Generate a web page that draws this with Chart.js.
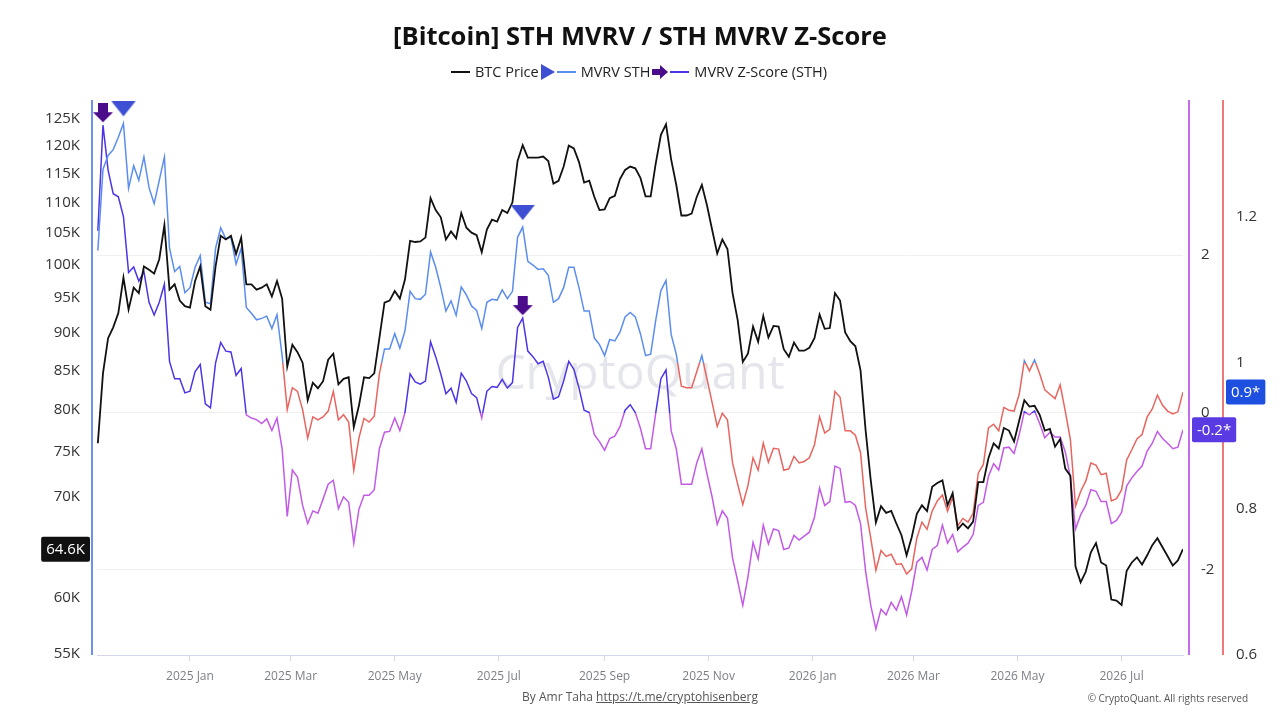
<!DOCTYPE html>
<html>
<head>
<meta charset="utf-8">
<title>[Bitcoin] STH MVRV / STH MVRV Z-Score</title>
<style>
body { margin: 0; background: #fff; font-family: "Open Sans", sans-serif; }
.wrap { position: relative; width: 1280px; height: 720px; overflow: hidden; }
#myChart { position: absolute; left: 0; top: 0; }
h1 {
  position: absolute; left: 0; right: 0; top: 18px; margin: 0;
  text-align: center; font-size: 25.5px; font-weight: 700; color: #111;
}
.legend {
  position: absolute; left: 0; right: 0; top: 62px;
  display: flex; justify-content: center; align-items: center;
  font-size: 14.5px; color: #222;
}
.legend .ln { display: inline-block; width: 19px; border-top: 2px solid; margin-right: 5px; }
.legend .txt { margin-right: 2px; }
.legend svg { margin: 0 2px 0 0; }
.credit {
  position: absolute; left: 0; right: 0; top: 688px; text-align: center;
  font-size: 12px; color: #555;
}
.credit a { color: #555; }
.copy { position: absolute; right: 32px; top: 691px; font-size: 10px; color: #555; }
</style>
</head>
<body>
<div class="wrap">
  <canvas id="myChart" width="1280" height="720"></canvas>
  <h1>[Bitcoin] STH MVRV / STH MVRV Z-Score</h1>
  <div class="legend">
    <span class="ln" style="border-color:#111"></span><span class="txt">BTC Price</span>
    <svg width="14" height="16"><polygon points="0,0 14,8 0,16" fill="#3e4fd4"/></svg>
    <span class="ln" style="border-color:#5b8def"></span><span class="txt">MVRV STH</span>
    <svg width="16" height="14"><polygon points="0,4 8,4 8,0 16,7 8,14 8,10 0,10" fill="#4b0c8c"/></svg>
    <span class="ln" style="border-color:#4b35e6"></span><span class="txt">MVRV Z-Score (STH)</span>
  </div>
  <div class="credit">By Amr Taha <a href="#">https://t.me/cryptohisenberg</a></div>
  <div class="copy">© CryptoQuant. All rights reserved</div>
</div>
<script src="https://cdn.jsdelivr.net/npm/chart.js@4/dist/chart.umd.min.js"></script>
<script>
// day numbers are counted from 2025-01-01, one point every 3 days
var firstDay = -54;
var stepDays = 3;

var btcPriceK = [
  76.0, 84.6, 89.3, 90.8, 92.8, 98.0, 93.3, 96.5, 95.7, 99.7,
  99.2, 98.6, 100.8, 106.2, 96.2, 97.0, 94.6, 93.8, 93.6, 97.5,
  99.7, 93.8, 93.3, 99.7, 104.5, 103.9, 104.5, 101.6, 104.2, 97.0,
  97.0, 96.2, 96.5, 97.0, 95.2, 97.5, 94.9, 85.5, 88.4, 87.4,
  86.0, 81.2, 83.4, 82.7, 83.6, 86.4, 87.2, 83.2, 83.9, 84.1,
  77.9, 80.5, 84.1, 84.0, 84.6, 89.3, 94.3, 94.6, 96.0, 94.9,
  97.7, 103.7, 103.5, 103.6, 104.2, 110.7, 108.7, 107.5, 103.9, 105.2,
  104.1, 108.2, 105.8, 105.0, 104.6, 101.9, 105.5, 107.1, 106.8, 108.7,
  108.2, 110.0, 117.2, 120.1, 117.8, 117.8, 117.8, 118.0, 117.2, 113.2,
  113.7, 116.2, 120.0, 119.5, 117.0, 113.4, 113.7, 110.9, 108.7, 108.8,
  110.7, 111.1, 114.0, 115.6, 116.2, 115.9, 114.2, 111.0, 111.0, 116.8,
  122.0, 124.0, 117.5, 113.0, 107.8, 107.8, 108.1, 110.9, 113.0, 109.5,
  105.5, 101.7, 103.9, 102.4, 95.7, 91.8, 86.1, 87.2, 90.9, 88.8,
  92.4, 89.4, 91.0, 90.9, 87.8, 86.8, 88.7, 87.6, 87.6, 88.0,
  89.3, 92.6, 90.6, 90.7, 95.7, 94.6, 90.1, 88.9, 88.2, 85.0,
  77.5, 71.8, 67.3, 69.0, 68.3, 68.5, 67.2, 66.0, 64.0, 65.8,
  68.2, 69.1, 68.5, 71.1, 71.5, 71.8, 69.1, 70.4, 66.6, 67.2,
  66.7, 67.4, 71.6, 71.6, 74.3, 76.0, 75.4, 77.8, 77.5, 76.2,
  78.7, 81.2, 80.4, 80.5, 79.4, 77.5, 77.7, 75.6, 76.5, 73.1,
  72.3, 62.9, 61.4, 62.4, 64.3, 65.2, 63.3, 63.0, 59.8, 59.7,
  59.3, 62.5, 63.3, 63.8, 63.1, 64.0, 65.0, 65.7, 64.8, 63.9,
  63.0, 63.5, 64.6
];

var mvrvSth = [
  1.154, 1.265, 1.284, 1.292, 1.309, 1.328, 1.239, 1.270, 1.250, 1.282,
  1.240, 1.218, 1.250, 1.282, 1.157, 1.125, 1.132, 1.096, 1.103, 1.131,
  1.147, 1.083, 1.081, 1.157, 1.185, 1.170, 1.172, 1.135, 1.157, 1.076,
  1.068, 1.059, 1.061, 1.064, 1.047, 1.066, 1.010, 0.936, 0.966, 0.961,
  0.936, 0.897, 0.926, 0.922, 0.926, 0.934, 0.961, 0.922, 0.929, 0.919,
  0.853, 0.897, 0.924, 0.919, 0.927, 0.985, 1.019, 1.019, 1.040, 1.020,
  1.044, 1.098, 1.088, 1.087, 1.094, 1.152, 1.131, 1.103, 1.071, 1.085,
  1.065, 1.104, 1.093, 1.078, 1.072, 1.047, 1.083, 1.087, 1.086, 1.100,
  1.088, 1.098, 1.172, 1.186, 1.139, 1.134, 1.128, 1.129, 1.120, 1.083,
  1.088, 1.103, 1.131, 1.131, 1.103, 1.071, 1.071, 1.034, 1.025, 1.010,
  1.032, 1.030, 1.042, 1.063, 1.069, 1.063, 1.040, 1.010, 1.012, 1.059,
  1.099, 1.113, 1.039, 1.012, 0.968, 0.966, 0.966, 0.988, 1.010, 0.978,
  0.946, 0.913, 0.931, 0.922, 0.863, 0.834, 0.806, 0.832, 0.870, 0.853,
  0.890, 0.864, 0.883, 0.882, 0.853, 0.855, 0.872, 0.863, 0.865, 0.870,
  0.888, 0.926, 0.904, 0.909, 0.961, 0.953, 0.907, 0.907, 0.901, 0.877,
  0.801, 0.760, 0.716, 0.743, 0.735, 0.738, 0.724, 0.725, 0.711, 0.718,
  0.760, 0.782, 0.772, 0.797, 0.811, 0.819, 0.797, 0.816, 0.777, 0.787,
  0.782, 0.794, 0.849, 0.861, 0.911, 0.916, 0.907, 0.939, 0.935, 0.934,
  0.957, 1.003, 0.989, 1.004, 0.985, 0.963, 0.957, 0.951, 0.970, 0.934,
  0.895, 0.804, 0.824, 0.838, 0.863, 0.860, 0.847, 0.849, 0.811, 0.814,
  0.826, 0.867, 0.881, 0.896, 0.902, 0.926, 0.937, 0.956, 0.942, 0.934,
  0.930, 0.933, 0.960
];

var mvrvZScore = [
  2.31, 3.65, 3.08, 2.78, 2.74, 2.49, 1.78, 1.85, 1.67, 1.79,
  1.40, 1.24, 1.40, 1.63, 0.65, 0.43, 0.43, 0.25, 0.27, 0.52,
  0.61, 0.11, 0.06, 0.63, 0.89, 0.78, 0.77, 0.47, 0.56, -0.03,
  -0.07, -0.09, -0.14, -0.08, -0.23, -0.07, -0.46, -1.32, -0.73, -0.82,
  -1.18, -1.41, -1.25, -1.28, -1.10, -0.91, -0.86, -1.22, -1.07, -1.14,
  -1.66, -1.23, -1.05, -1.05, -0.98, -0.46, -0.25, -0.24, -0.07, -0.23,
  0.00, 0.49, 0.39, 0.36, 0.40, 0.90, 0.71, 0.49, 0.24, 0.31,
  0.13, 0.50, 0.40, 0.24, 0.19, -0.07, 0.27, 0.33, 0.32, 0.42,
  0.31, 0.38, 1.08, 1.20, 0.78, 0.71, 0.62, 0.65, 0.45, 0.17,
  0.20, 0.40, 0.65, 0.55, 0.31, 0.03, 0.00, -0.28, -0.37, -0.48,
  -0.33, -0.30, -0.18, 0.03, 0.10, 0.00, -0.20, -0.46, -0.46, 0.00,
  0.43, 0.54, -0.23, -0.46, -0.91, -0.91, -0.91, -0.64, -0.46, -0.78,
  -1.07, -1.42, -1.25, -1.34, -1.85, -2.14, -2.45, -2.09, -1.65, -1.86,
  -1.43, -1.67, -1.48, -1.50, -1.74, -1.72, -1.56, -1.62, -1.57, -1.52,
  -1.33, -0.96, -1.18, -1.13, -0.68, -0.71, -1.14, -1.13, -1.18, -1.41,
  -2.02, -2.45, -2.75, -2.50, -2.57, -2.41, -2.51, -2.34, -2.57, -2.27,
  -1.90, -1.84, -2.00, -1.74, -1.69, -1.43, -1.66, -1.55, -1.77, -1.71,
  -1.66, -1.55, -1.18, -1.14, -0.81, -0.65, -0.73, -0.45, -0.44, -0.52,
  -0.28, 0.01, -0.03, 0.02, -0.14, -0.32, -0.25, -0.31, -0.31, -0.50,
  -0.82, -1.48, -1.30, -1.18, -0.98, -1.00, -1.13, -1.13, -1.41, -1.37,
  -1.27, -0.93, -0.83, -0.75, -0.68, -0.49, -0.39, -0.24, -0.33, -0.39,
  -0.46, -0.44, -0.22
];

// signal markers (index into the series above)
var mvrvSignalIdx = [5, 83];
var zSignalIdx = [1, 83];

// x axis month ticks
var monthTickDays = [0, 59, 120, 181, 243, 304, 365, 424, 485, 546];
var monthTickLabels = ['2025 Jan', '2025 Mar', '2025 May', '2025 Jul', '2025 Sep',
                       '2025 Nov', '2026 Jan', '2026 Mar', '2026 May', '2026 Jul'];

var priceTicksK = [55, 60, 70, 75, 80, 85, 90, 95, 100, 105, 110, 115, 120, 125];
var zTicks = [-2, 0, 2];
var mvrvTicks = [0.6, 0.8, 1, 1.2];

var COL_BTC = '#111111';
var COL_MVRV_UP = '#5b8def', COL_MVRV_DN = '#e8645e';
var COL_Z_UP = '#4b35e6', COL_Z_DN = '#c25ae6';

function toPoints(values) {
  return values.map(function (v, i) { return { x: firstDay + i * stepDays, y: v }; });
}
function signalPoints(values, idx) {
  return idx.map(function (i) { return { x: firstDay + i * stepDays, y: values[i] }; });
}

// line colour split at a threshold of its own axis
function splitColor(axisId, threshold, above, below) {
  return function (context) {
    var chart = context.chart;
    var area = chart.chartArea;
    if (!area) return above;
    var y = chart.scales[axisId].getPixelForValue(threshold);
    var s = (y - area.top) / (area.bottom - area.top);
    s = Math.min(1, Math.max(0, s));
    var g = chart.ctx.createLinearGradient(0, area.top, 0, area.bottom);
    g.addColorStop(0, above);
    g.addColorStop(s, above);
    g.addColorStop(s, below);
    g.addColorStop(1, below);
    return g;
  };
}

function triangleMarker(color) {
  var c = document.createElement('canvas');
  c.width = 26; c.height = 44;
  var g = c.getContext('2d');
  g.fillStyle = color;
  g.beginPath(); g.moveTo(1, 0); g.lineTo(25, 0); g.lineTo(13, 15); g.closePath(); g.fill();
  return c;
}
function arrowMarker(color) {
  var c = document.createElement('canvas');
  c.width = 22; c.height = 44;
  var g = c.getContext('2d');
  g.fillStyle = color;
  g.beginPath();
  g.moveTo(6, 0); g.lineTo(16, 0); g.lineTo(16, 9); g.lineTo(21, 9);
  g.lineTo(11, 19); g.lineTo(1, 9); g.lineTo(6, 9);
  g.closePath(); g.fill();
  return c;
}

function drawBadge(ctx, text, x, y, align, bg) {
  ctx.save();
  ctx.font = '15px "Open Sans"';
  var w = ctx.measureText(text).width + 10;
  var h = 25;
  var left = align === 'right' ? x - w : x;
  ctx.fillStyle = bg;
  ctx.beginPath();
  ctx.roundRect(left, y - h / 2, w, h, 2);
  ctx.fill();
  ctx.fillStyle = '#fff';
  ctx.textAlign = 'center';
  ctx.textBaseline = 'middle';
  ctx.fillText(text, left + w / 2, y + 1);
  ctx.restore();
}

var decorPlugin = {
  id: 'decor',
  beforeDatasetsDraw: function (chart) {
    var ctx = chart.ctx;
    ctx.save();
    ctx.font = '48px "Open Sans"';
    ctx.fillStyle = '#e5e6ec';
    ctx.textAlign = 'center';
    ctx.textBaseline = 'middle';
    ctx.fillText('CryptoQuant', 640, 375);
    ctx.restore();
  },
  afterDraw: function (chart) {
    var ctx = chart.ctx, a = chart.chartArea;
    function vline(x, color) {
      ctx.save();
      ctx.strokeStyle = color; ctx.lineWidth = 2;
      ctx.beginPath(); ctx.moveTo(x, a.top); ctx.lineTo(x, a.bottom); ctx.stroke();
      ctx.restore();
    }
    vline(a.left - 5, '#6f8ff0');
    vline(a.right + 6, '#c46cf0');
    vline(chart.scales.yM.left, '#ec7a78');

    var lastP = btcPriceK[btcPriceK.length - 1];
    var lastM = mvrvSth[mvrvSth.length - 1];
    var lastZ = mvrvZScore[mvrvZScore.length - 1];
    drawBadge(ctx, lastP.toFixed(1) + 'K', a.left - 7, chart.scales.yP.getPixelForValue(lastP), 'right', '#111');
    drawBadge(ctx, (Math.trunc(lastM * 10) / 10).toFixed(1) + '*', chart.scales.yM.left + 3,
              chart.scales.yM.getPixelForValue(lastM), 'left', '#1d4fe0');
    drawBadge(ctx, (Math.trunc(lastZ * 10) / 10).toFixed(1) + '*', a.right + 9,
              chart.scales.yZ.getPixelForValue(lastZ), 'left', '#5a3ae2');
  }
};

Chart.defaults.font.family = '"Open Sans", sans-serif';

var ctx = document.getElementById('myChart').getContext('2d');
var chart = new Chart(ctx, {
  type: 'line',
  data: {
    datasets: [
      {
        label: 'MVRV STH signal',
        data: signalPoints(mvrvSth, mvrvSignalIdx),
        yAxisID: 'yM',
        showLine: false,
        pointStyle: triangleMarker('#3e4fd4'),
        clip: false,
        order: 0
      },
      {
        label: 'MVRV Z-Score signal',
        data: signalPoints(mvrvZScore, zSignalIdx),
        yAxisID: 'yZ',
        showLine: false,
        pointStyle: arrowMarker('#4b0c8c'),
        clip: false,
        order: 0
      },
      {
        label: 'BTC Price',
        data: toPoints(btcPriceK),
        yAxisID: 'yP',
        borderColor: COL_BTC,
        borderWidth: 1.8,
        pointRadius: 0,
        order: 1
      },
      {
        label: 'MVRV STH',
        data: toPoints(mvrvSth),
        yAxisID: 'yM',
        borderColor: splitColor('yM', 1, COL_MVRV_UP, COL_MVRV_DN),
        borderWidth: 1.5,
        pointRadius: 0,
        order: 2
      },
      {
        label: 'MVRV Z-Score (STH)',
        data: toPoints(mvrvZScore),
        yAxisID: 'yZ',
        borderColor: splitColor('yZ', 0, COL_Z_UP, COL_Z_DN),
        borderWidth: 1.5,
        pointRadius: 0,
        order: 3
      }
    ]
  },
  options: {
    responsive: false,
    animation: false,
    layout: { padding: { top: 100, left: 0, right: 0, bottom: 0 } },
    plugins: { legend: { display: false }, tooltip: { enabled: false }, title: { display: false } },
    scales: {
      x: {
        type: 'linear',
        min: -54.5,
        max: 582,
        afterBuildTicks: function (s) { s.ticks = monthTickDays.map(function (v) { return { value: v }; }); },
        afterFit: function (s) { s.height = 65; },
        ticks: {
          autoSkip: false, maxRotation: 0, padding: 8, color: '#7d7f87', font: { size: 12 },
          callback: function (v) { return monthTickLabels[monthTickDays.indexOf(v)]; }
        },
        grid: { drawOnChartArea: false, drawTicks: true, tickLength: 6, color: '#d6d9e8' },
        border: { display: true, color: '#d3d6e8' }
      },
      yP: {
        type: 'logarithmic',
        position: 'left',
        min: 54.92,
        max: 128.7,
        afterBuildTicks: function (s) { s.ticks = priceTicksK.map(function (v) { return { value: v }; }); },
        afterFit: function (s) { s.width = 97; },
        ticks: { padding: 17, color: '#333', font: { size: 15 }, callback: function (v) { return v + 'K'; } },
        grid: { display: false, drawTicks: false },
        border: { display: false }
      },
      yZ: {
        type: 'linear',
        position: 'right',
        min: -3.08,
        max: 3.97,
        afterBuildTicks: function (s) { s.ticks = zTicks.map(function (v) { return { value: v }; }); },
        afterFit: function (s) { s.width = 40; },
        ticks: { padding: 18, color: '#333', font: { size: 15 }, callback: function (v) { return String(v); } },
        grid: { color: '#f0f0f0', drawTicks: false },
        border: { display: false }
      },
      yM: {
        type: 'linear',
        position: 'right',
        min: 0.6,
        max: 1.36,
        afterBuildTicks: function (s) { s.ticks = mvrvTicks.map(function (v) { return { value: v }; }); },
        afterFit: function (s) { s.width = 57; },
        ticks: { padding: 13, color: '#333', font: { size: 15 }, callback: function (v) { return String(Math.round(v * 10) / 10); } },
        grid: { display: false, drawTicks: false },
        border: { display: false }
      }
    }
  },
  plugins: [decorPlugin]
});
</script>
</body>
</html>
